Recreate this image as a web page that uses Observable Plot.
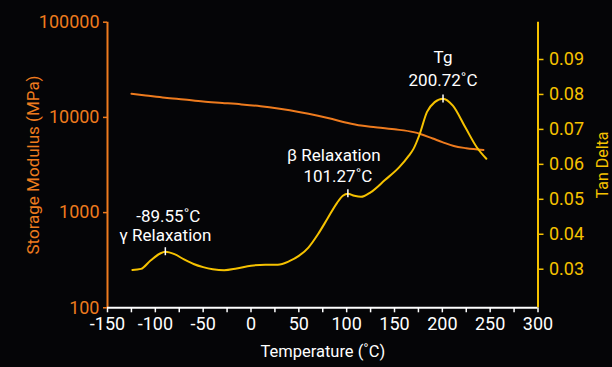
<!DOCTYPE html>
<html>
<head>
<meta charset="utf-8">
<script src="https://cdn.jsdelivr.net/npm/d3@7"></script>
<script src="https://cdn.jsdelivr.net/npm/@observablehq/plot@0.6"></script>
<style>
  html, body { margin: 0; padding: 0; background: #050507; }
  #wrap { position: relative; width: 612px; height: 367px; background: #050507; overflow: hidden; }
  #wrap svg { position: absolute; left: 0; top: 0; }
</style>
</head>
<body>
<div id="wrap"></div>
<script>
// ---- data ----
const xTicks = [-150, -125, -100, -75, -50, -25, 0, 25, 50, 75, 100, 125, 150, 175, 200, 225, 250, 275, 300];
const modulusTicks = [100, 1000, 10000, 100000];
const tanTicks = [0.03, 0.04, 0.05, 0.06, 0.07, 0.08, 0.09];

const modTemp = [-125, -110, -90, -70, -50, -30, -10, 10, 30, 50, 70, 85, 100, 115, 130, 150, 170, 177, 190, 200, 212, 225, 243];
const modValue = [17700, 17000, 16100, 15400, 14700, 14200, 13700, 13100, 12300, 11400, 10400, 9600, 8800, 8200, 7900, 7500, 7000, 6700, 6000, 5500, 5000, 4750, 4550];

const tanTemp = [-124, -115, -105, -95, -89.55, -80, -70, -60, -50, -40, -28, -15, 0, 15, 28, 40, 50, 60, 70, 80, 90, 96, 101.27, 108, 115, 125, 140, 155, 165, 170, 176, 184, 192, 200.72, 211, 224, 236, 246];
const tanValue = [0.0298, 0.0301, 0.0325, 0.0345, 0.0350, 0.0343, 0.0328, 0.0315, 0.0306, 0.0300, 0.0297, 0.0302, 0.0310, 0.0313, 0.0313, 0.0323, 0.0338, 0.0362, 0.0400, 0.0445, 0.0490, 0.0510, 0.0516, 0.0510, 0.0507, 0.0520, 0.0555, 0.0592, 0.0625, 0.0645, 0.0684, 0.0750, 0.0778, 0.0788, 0.0768, 0.0706, 0.0649, 0.0616];

const peakTemp = [-89.55, 101.27, 200.72];
const peakTan = [0.0350, 0.0516, 0.0787];
const peakLine1 = ["-89.55˚C", "β Relaxation", "Tg"];
const peakLine2 = ["γ Relaxation", "101.27˚C", "200.72˚C"];

// ---- build tables ----
const modulus = modTemp.map((t, i) => ({t, v: modValue[i]}));
const tan = tanTemp.map((t, i) => ({t, v: tanValue[i]}));
const peaks = peakTemp.map((t, i) => ({t, v: peakTan[i], a: peakLine1[i], b: peakLine2[i]}));

const ORANGE = "#ee7b1e";
const YELLOW = "#f6c200";
const FONT = "Roboto, 'Liberation Sans', sans-serif";
const W = 612, H = 367;
const M = {left: 107, right: 74.5, top: 21.7, bottom: 59.7};

const common = {
  width: W, height: H,
  marginLeft: M.left, marginRight: M.right, marginTop: M.top, marginBottom: M.bottom,
  style: {background: "transparent", color: "white", fontFamily: FONT, overflow: "visible"}
};

const p1 = Plot.plot({
  ...common,
  x: {domain: [-150, 300]},
  y: {type: "log", domain: [100, 100000]},
  marks: [
    Plot.line(modulus, {x: "t", y: "v", stroke: ORANGE, strokeWidth: 2, curve: "monotone-x"}),
    Plot.axisX({ticks: xTicks, tickFormat: d => (d % 50 === 0 ? String(d) : ""), tickSize: 5, tickPadding: 4,
      stroke: "white", fill: "white", strokeWidth: 1.5, fontSize: 18, label: null}),
    Plot.axisY({ticks: modulusTicks, tickFormat: d => String(d), tickSize: 4, tickPadding: 4,
      stroke: ORANGE, fill: ORANGE, strokeWidth: 1.5, fontSize: 18, label: null}),
    Plot.ruleX([-150], {stroke: ORANGE, strokeWidth: 2}),
    Plot.ruleY([100], {stroke: "white", strokeWidth: 2}),
    Plot.text(["Temperature (˚C)"], {text: d => d, frameAnchor: "bottom", textAnchor: "middle", dy: 49, fill: "white", fontSize: 16.5}),
    Plot.text(["Storage Modulus (MPa)"], {text: d => d, frameAnchor: "left", textAnchor: "middle", dx: -74, rotate: -90, fill: ORANGE, fontSize: 17})
  ]
});

const p2 = Plot.plot({
  ...common,
  x: {domain: [-150, 300], axis: null},
  y: {domain: [0.01896, 0.10067]},
  marks: [
    Plot.line(tan, {x: "t", y: "v", stroke: YELLOW, strokeWidth: 2, curve: "monotone-x"}),
    Plot.axisY({anchor: "right", ticks: tanTicks, tickFormat: d3.format(".2f"), tickSize: 5, tickPadding: 6,
      stroke: YELLOW, fill: YELLOW, strokeWidth: 1.5, fontSize: 18, label: null}),
    Plot.ruleX([300], {stroke: YELLOW, strokeWidth: 2}),
    Plot.text(["Tan Delta"], {text: d => d, frameAnchor: "right", textAnchor: "middle", dx: 65, rotate: -90, fill: YELLOW, fontSize: 16}),
    Plot.ruleX(peaks, {x: "t", y1: "v", y2: "v", insetTop: -4, insetBottom: -4, stroke: "white", strokeWidth: 1.5}),
    // annotation lines
    Plot.text([peaks[0]], {x: "t", y: "v", text: "a", dx: 3, dy: -35, fill: "white", fontSize: 17}),
    Plot.text([peaks[0]], {x: "t", y: "v", text: "b", dx: 0, dy: -16, fill: "white", fontSize: 17}),
    Plot.text([peaks[1]], {x: "t", y: "v", text: "a", dx: -14, dy: -38, fill: "white", fontSize: 17}),
    Plot.text([peaks[1]], {x: "t", y: "v", text: "b", dx: -10, dy: -17, fill: "white", fontSize: 17}),
    Plot.text([peaks[2]], {x: "t", y: "v", text: "a", dx: 0, dy: -41, fill: "white", fontSize: 17}),
    Plot.text([peaks[2]], {x: "t", y: "v", text: "b", dx: 0, dy: -18, fill: "white", fontSize: 17})
  ]
});

const wrap = document.getElementById("wrap");
wrap.appendChild(p1);
wrap.appendChild(p2);
</script>
</body>
</html>
